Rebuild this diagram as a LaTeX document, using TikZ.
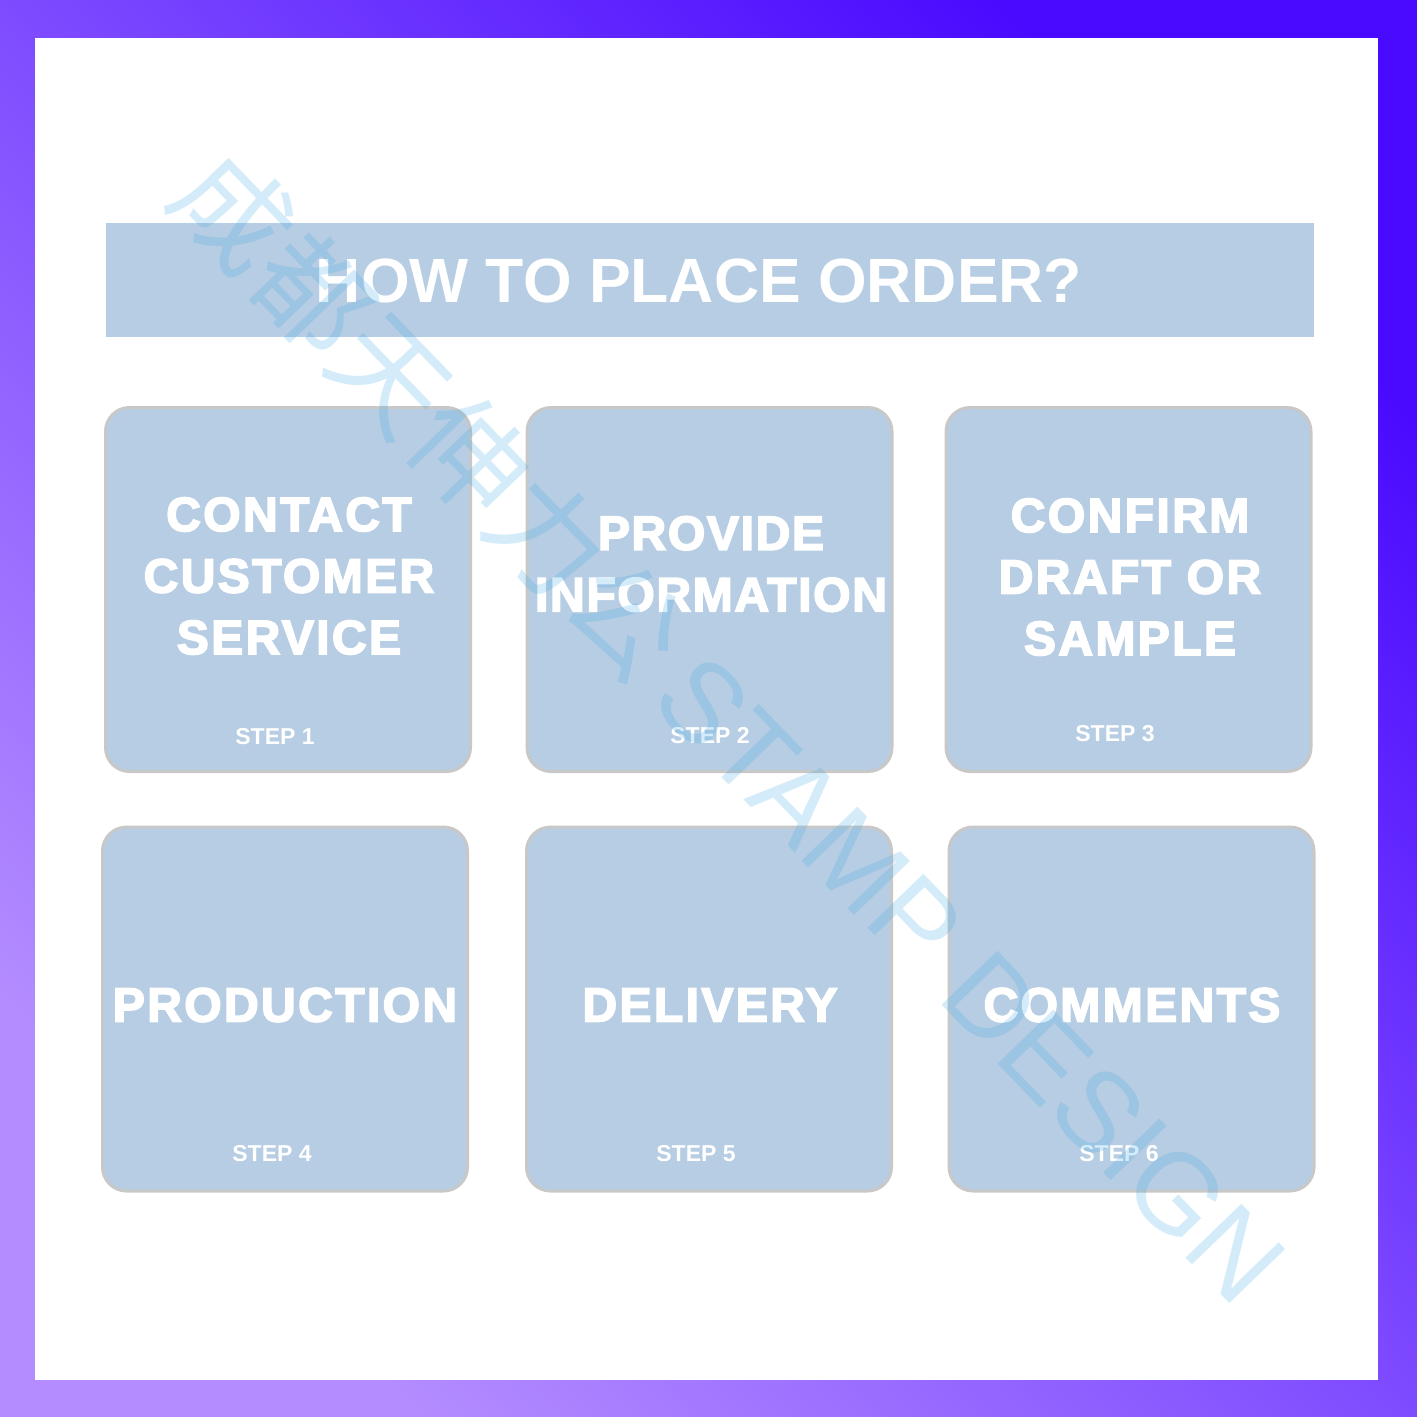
\documentclass[tikz,border=0pt]{standalone}
\usepackage{fontspec}
\setmainfont{Liberation Sans}
\newfontfamily\heavy{Liberation Sans}[BoldFeatures={FakeBold=3.5,LetterSpace=5}]
\newfontfamily\heavytight{Liberation Sans}[BoldFeatures={FakeBold=3.5,LetterSpace=3.5}]
\newfontfamily\cjk{Noto Sans CJK SC}
\definecolor{framedark}{HTML}{4A0AFF}
\definecolor{framelight}{HTML}{B48CFF}
\definecolor{boxblue}{HTML}{B7CDE3}
\definecolor{boxgray}{HTML}{C8C8C8}
\definecolor{wmblue}{HTML}{3CAAE6}
\tikzset{
  card/.style={rounded corners=24pt, fill=boxblue, draw=boxgray, line width=3pt,
    minimum width=365pt, minimum height=364pt, inner sep=0pt},
  big/.style={text=white, font=\heavy\bfseries\fontsize{48}{61.5}\selectfont, align=center, inner sep=0pt},
  bigtight/.style={big, font=\heavytight\bfseries\fontsize{48}{61.5}\selectfont},
  steplbl/.style={text=white, font=\bfseries\fontsize{23}{23}\selectfont, inner sep=0pt},
  banner/.style={fill=boxblue, minimum width=1208pt, minimum height=114pt, inner sep=0pt},
  titletext/.style={text=white, font=\bfseries\fontsize{62.5}{63}\selectfont, inner sep=0pt},
  wm/.style={text=wmblue, text opacity=0.22, font=\fontsize{113}{113}\selectfont, inner sep=0pt},
}
\begin{document}
\begin{tikzpicture}[x=1pt,y=-1pt]
\useasboundingbox (0,0) rectangle (1417,1417);
\shade[top color=framedark, bottom color=framelight, shading angle=-45] (0,0) rectangle (1417,1417);
\fill[white] (35,38) rectangle (1378,1380);

\node[banner] (bar) at (710,280) {};
\node[titletext] (title) at (699,281) {HOW TO PLACE ORDER?};

\node[card] (c1) at (288,589.5) {};
\node[card] (c2) at (709.5,589.5) {};
\node[card] (c3) at (1128.5,589.5) {};
\node[card] (c4) at (285,1009) {};
\node[card] (c5) at (709,1009) {};
\node[card] (c6) at (1131.5,1009) {};

\node[big] (t1) at (289,576) {CONTACT\\CUSTOMER\\SERVICE};
\node[bigtight] (t2) at (711,564) {PROVIDE\\INFORMATION};
\node[big] (t3) at (1130,577) {CONFIRM\\DRAFT OR\\SAMPLE};
\node[big] (t4) at (285,1005) {PRODUCTION};
\node[big] (t5) at (710,1005) {DELIVERY};
\node[big] (t6) at (1132,1005) {COMMENTS};

\node[steplbl] (s1) at (275,737) {STEP 1};
\node[steplbl] (s2) at (710,736) {STEP 2};
\node[steplbl] (s3) at (1115,734) {STEP 3};
\node[steplbl] (s4) at (272,1154) {STEP 4};
\node[steplbl] (s5) at (696,1154) {STEP 5};
\node[steplbl] (s6) at (1119,1154) {STEP 6};

\node[wm, rotate=-46] (mark) at (731,726) {{\cjk 成都天伸力公}\,STAMP DESIGN};
\end{tikzpicture}
\end{document}
